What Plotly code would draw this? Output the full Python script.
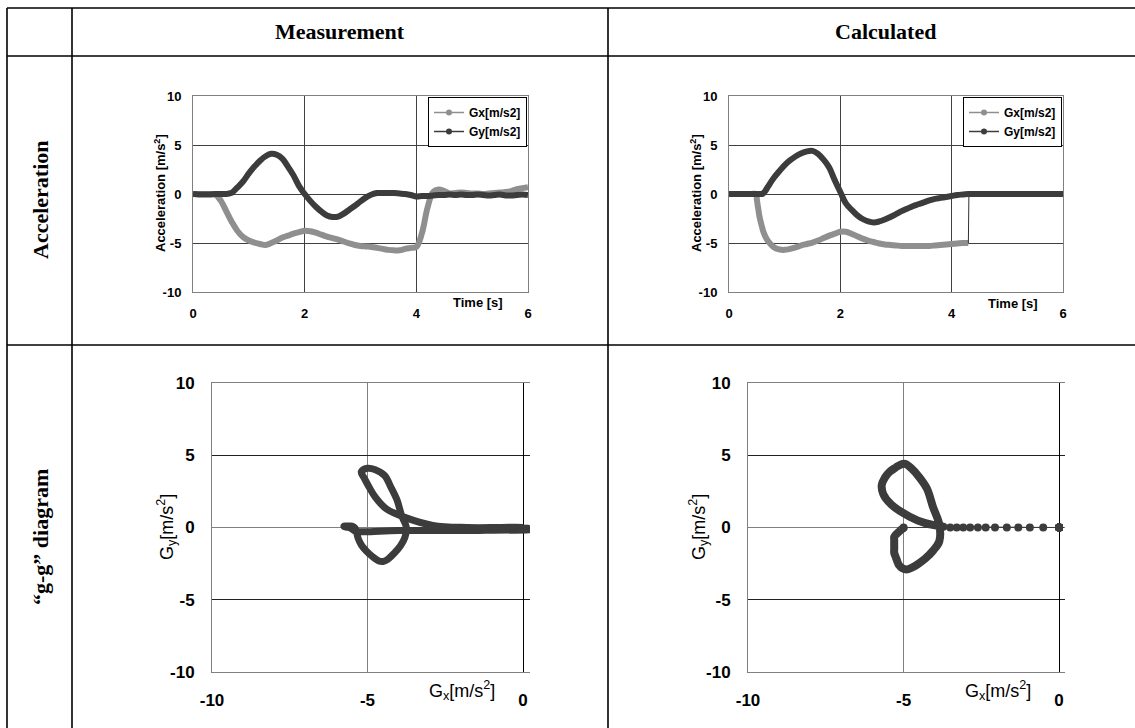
import plotly.graph_objects as go

# ---------------- data ----------------
meas_t = [0.0, 0.1, 0.2, 0.3, 0.4, 0.5, 0.6, 0.7, 0.8, 0.9,
          1.0, 1.1, 1.2, 1.3, 1.4, 1.5, 1.6, 1.7, 1.8, 1.9,
          2.0, 2.1, 2.2, 2.3, 2.4, 2.5, 2.6, 2.7, 2.8, 2.9,
          3.0, 3.1, 3.2, 3.3, 3.4, 3.5, 3.6, 3.7, 3.8, 3.9,
          4.0, 4.1, 4.2, 4.3, 4.4, 4.5, 4.6, 4.7, 4.8, 4.9,
          5.0, 5.1, 5.2, 5.3, 5.4, 5.5, 5.6, 5.7, 5.8, 5.9, 6.0]
meas_gx = [0, 0, 0, 0, -0.05, -0.7, -1.8, -2.9, -3.8, -4.4,
           -4.75, -4.95, -5.1, -5.2, -5.0, -4.75, -4.45, -4.25, -4.05, -3.9,
           -3.75, -3.8, -3.95, -4.15, -4.35, -4.5, -4.65, -4.85, -5.05, -5.2,
           -5.3, -5.35, -5.4, -5.5, -5.6, -5.7, -5.75, -5.75, -5.6, -5.5,
           -5.4, -4.0, -1.4, 0.2, 0.45, 0.3, 0.05, 0.1, 0.15, 0.1,
           0.05, 0.05, 0.0, 0.05, 0.1, 0.15, 0.2, 0.3, 0.5, 0.6, 0.7]
meas_gy = [0, -0.05, -0.05, -0.05, 0, 0, 0, 0.15, 0.7, 1.3,
           2.1, 2.8, 3.4, 3.85, 4.1, 4.0, 3.6, 2.8, 1.9, 0.8,
           0.0, -0.7, -1.3, -1.8, -2.2, -2.35, -2.3, -2.0, -1.6, -1.2,
           -0.75, -0.35, -0.05, 0.1, 0.1, 0.1, 0.1, 0.05, 0.0, -0.1,
           -0.25, -0.2, -0.2, -0.15, -0.1, -0.1, -0.05, -0.1, -0.05, -0.1,
           -0.1, -0.05, -0.1, -0.15, -0.1, -0.05, -0.15, -0.15, -0.1, -0.05, -0.1]

calc_t = [0.0, 0.1, 0.2, 0.3, 0.4, 0.49,
          0.50, 0.51, 0.52, 0.53, 0.54, 0.55, 0.56, 0.57, 0.58, 0.59, 0.60, 0.61,
          0.65, 0.7, 0.8, 0.9,
          1.0, 1.1, 1.2, 1.3, 1.4, 1.5, 1.6, 1.7, 1.8, 1.9,
          2.0, 2.1, 2.2, 2.3, 2.4, 2.5, 2.6, 2.7, 2.8, 2.9,
          3.0, 3.1, 3.2, 3.3, 3.4, 3.5, 3.6, 3.7, 3.8, 3.9,
          4.0, 4.1, 4.2, 4.3, 4.31, 4.4, 4.5, 4.6, 4.7, 4.8, 4.9,
          5.0, 5.1, 5.2, 5.3, 5.4, 5.5, 5.6, 5.7, 5.8, 5.9, 6.0]
calc_gx = [0, 0, 0, 0, 0, 0,
           -0.51, -0.94, -1.31, -1.68, -2.06, -2.36, -2.61, -2.86, -3.08, -3.29, -3.5, -3.72,
           -4.3, -4.8, -5.4, -5.65,
           -5.7, -5.6, -5.45, -5.25, -5.1, -4.95, -4.75, -4.5, -4.25, -4.05,
           -3.85, -3.85, -4.05, -4.3, -4.55, -4.75, -4.9, -5.05, -5.15, -5.2,
           -5.25, -5.3, -5.3, -5.3, -5.3, -5.3, -5.3, -5.25, -5.2, -5.15,
           -5.1, -5.05, -5.0, -5.0, 0, 0, 0, 0, 0, 0, 0,
           0, 0, 0, 0, 0, 0, 0, 0, 0, 0, 0]
calc_gy = [0, 0, 0, 0, 0, 0,
           0, 0, 0, 0, 0, 0, 0, 0, 0, 0, 0, 0.05,
           0.3, 0.75, 1.6, 2.3,
           2.95, 3.45, 3.85, 4.15, 4.35, 4.4, 4.1, 3.5, 2.7, 1.4,
           0.2, -0.95, -1.6, -2.15, -2.55, -2.8, -2.9, -2.8, -2.6, -2.35,
           -2.05, -1.75, -1.5, -1.25, -1.05, -0.85, -0.65, -0.5, -0.4, -0.3,
           -0.2, -0.1, -0.05, 0, 0, 0, 0, 0, 0, 0, 0,
           0, 0, 0, 0, 0, 0, 0, 0, 0, 0, 0]

col_labels = ["Measurement", "Calculated"]
row_labels = ["Acceleration", "\u201cg-g\u201d diagram"]
series_names = ["Gx[m/s2]", "Gy[m/s2]"]
acc_xticks = [0, 2, 4, 6]
acc_yticks = [-10, -5, 0, 5, 10]
gg_xticks = [-10, -5, 0]
gg_yticks = [-10, -5, 0, 5, 10]

# ---------------- styling ----------------
W, H = 1135, 728
def px(x): return x / W
def py(y): return 1 - y / H
def labels(vals): return [str(v) for v in vals]   # plain hyphen-minus like the original

GX_COL = "#8f8f8f"
GY_COL = "#3c3c3c"
SANS = "Liberation Sans"
SERIF = "Liberation Serif"

i_end = calc_t.index(4.3)      # last calculated Gx sample before the jump
i_dot = calc_t.index(0.61)     # end of the sparse (dotted) part

fig = go.Figure()

# --- acceleration, measurement ---
fig.add_trace(go.Scatter(x=meas_t, y=meas_gx, mode="lines", line=dict(color=GX_COL, width=6, shape="spline"),
                         showlegend=False, xaxis="x", yaxis="y"))
fig.add_trace(go.Scatter(x=meas_t, y=meas_gy, mode="lines", line=dict(color=GY_COL, width=6, shape="spline"),
                         showlegend=False, xaxis="x", yaxis="y"))
fig.add_trace(go.Scatter(x=[None], y=[None], mode="lines+markers", name=series_names[0],
                         line=dict(color=GX_COL, width=1.5), marker=dict(color=GX_COL, size=6),
                         xaxis="x", yaxis="y", legend="legend"))
fig.add_trace(go.Scatter(x=[None], y=[None], mode="lines+markers", name=series_names[1],
                         line=dict(color=GY_COL, width=1.5), marker=dict(color=GY_COL, size=6),
                         xaxis="x", yaxis="y", legend="legend"))

# --- acceleration, calculated ---
fig.add_trace(go.Scatter(x=calc_t[:i_end + 1], y=calc_gx[:i_end + 1], mode="lines",
                         line=dict(color=GX_COL, width=6, shape="spline"),
                         showlegend=False, xaxis="x2", yaxis="y2"))
fig.add_trace(go.Scatter(x=calc_t[i_end:], y=calc_gx[i_end:], mode="lines",
                         line=dict(color="#303030", width=1),
                         showlegend=False, xaxis="x2", yaxis="y2"))
fig.add_trace(go.Scatter(x=calc_t, y=calc_gy, mode="lines", line=dict(color=GY_COL, width=6, shape="spline"),
                         showlegend=False, xaxis="x2", yaxis="y2"))
fig.add_trace(go.Scatter(x=[None], y=[None], mode="lines+markers", name=series_names[0],
                         line=dict(color=GX_COL, width=1.5), marker=dict(color=GX_COL, size=6),
                         xaxis="x2", yaxis="y2", legend="legend2"))
fig.add_trace(go.Scatter(x=[None], y=[None], mode="lines+markers", name=series_names[1],
                         line=dict(color=GY_COL, width=1.5), marker=dict(color=GY_COL, size=6),
                         xaxis="x2", yaxis="y2", legend="legend2"))

# --- g-g, measurement ---
fig.add_trace(go.Scatter(x=meas_gx, y=meas_gy, mode="lines", line=dict(color=GY_COL, width=7, shape="spline"),
                         showlegend=False, xaxis="x3", yaxis="y3"))

# --- g-g, calculated ---
fig.add_trace(go.Scatter(x=calc_gx[i_dot:i_end + 1], y=calc_gy[i_dot:i_end + 1], mode="lines",
                         line=dict(color=GY_COL, width=8, shape="spline"),
                         showlegend=False, xaxis="x4", yaxis="y4"))
fig.add_trace(go.Scatter(x=calc_gx[i_end:], y=calc_gy[i_end:], mode="lines+markers",
                         line=dict(color=GY_COL, width=1), marker=dict(color=GY_COL, size=8),
                         showlegend=False, xaxis="x4", yaxis="y4"))
fig.add_trace(go.Scatter(x=calc_gx[:i_dot + 1], y=calc_gy[:i_dot + 1], mode="lines+markers",
                         line=dict(color=GY_COL, width=1), marker=dict(color=GY_COL, size=8),
                         showlegend=False, xaxis="x4", yaxis="y4"))

acc_tick = dict(family=SANS, size=13, color="black", weight="bold")
gg_tick = dict(family=SANS, size=17, color="black", weight="bold")

def acc_axes(xd, anchor_x, anchor_y):
    xa = dict(domain=xd, range=[0, 6], tickvals=acc_xticks, ticktext=labels(acc_xticks),
              anchor=anchor_y, automargin=False,
              showgrid=True, gridcolor="#404040", gridwidth=1, zeroline=False,
              showline=True, mirror=True, linecolor="#808080", linewidth=1,
              ticks="", ticklabelstandoff=9, tickfont=acc_tick, fixedrange=True)
    ya = dict(domain=[py(292), py(96)], range=[-10, 10], tickvals=acc_yticks, ticktext=labels(acc_yticks),
              anchor=anchor_x, automargin=False,
              showgrid=True, gridcolor="#404040", gridwidth=1, zeroline=False,
              showline=True, mirror=True, linecolor="#808080", linewidth=1,
              ticks="", ticklabelstandoff=8, tickfont=acc_tick, fixedrange=True)
    return xa, ya

def gg_axes(xd, xr, anchor_x, anchor_y):
    xa = dict(domain=xd, range=xr, tickvals=gg_xticks, ticktext=labels(gg_xticks),
              anchor=anchor_y, automargin=False,
              showgrid=True, gridcolor="#808080", gridwidth=1,
              zeroline=True, zerolinecolor="#000000", zerolinewidth=1,
              showline=True, mirror=True, linecolor="#808080", linewidth=1,
              ticks="", ticklabelstandoff=13, tickfont=gg_tick, fixedrange=True)
    ya = dict(domain=[py(672), py(383)], range=[-10, 10], tickvals=gg_yticks, ticktext=labels(gg_yticks),
              anchor=anchor_x, automargin=False,
              showgrid=True, gridcolor="#202020", gridwidth=1,
              zeroline=True, zerolinecolor="#808080", zerolinewidth=1,
              showline=True, mirror=False, linecolor="#808080", linewidth=1,
              ticks="", ticklabelstandoff=13, tickfont=gg_tick, fixedrange=True)
    return xa, ya

x1, y1 = acc_axes([px(193), px(528)], "x", "y")
x2, y2 = acc_axes([px(729), px(1063)], "x2", "y2")
x3, y3 = gg_axes([px(212), px(530)], [-10, 0.225], "x3", "y3")
x4, y4 = gg_axes([px(748), px(1065)], [-10, 0.19], "x4", "y4")

# table lines
line_style = dict(color="black", width=1.6)
shapes = []
for yy in (8, 56, 345):
    shapes.append(dict(type="line", xref="paper", yref="paper", x0=px(7), x1=1.0, y0=py(yy), y1=py(yy), line=line_style))
for xx in (7, 72, 608):
    shapes.append(dict(type="line", xref="paper", yref="paper", x0=px(xx), x1=px(xx), y0=py(8), y1=0.0, line=line_style))

def ann(x, y, text, size, family=SANS, weight="normal", angle=0):
    return dict(x=px(x), y=py(y), xref="paper", yref="paper", text=text, showarrow=False,
                xanchor="center", yanchor="middle", textangle=angle,
                font=dict(family=family, size=size, color="black", weight=weight))

annotations = [
    ann(340, 32, col_labels[0], 22, SERIF, "bold"),
    ann(885, 32, col_labels[1], 22, SERIF, "bold"),
    ann(40, 200, row_labels[0], 22, SERIF, "bold", -90),
    ann(40, 537, row_labels[1], 22, SERIF, "bold", -90),
    ann(160, 193, "Acceleration [m/s<sup>2</sup>]", 13, SANS, "bold", -90),
    ann(696, 193, "Acceleration [m/s<sup>2</sup>]", 13, SANS, "bold", -90),
    ann(478, 302, "Time [s]", 13, SANS, "bold"),
    ann(1013, 303, "Time [s]", 13, SANS, "bold"),
    ann(166, 527, "G<sub>y</sub>[m/s<sup>2</sup>]", 18, SANS, "normal", -90),
    ann(698, 527, "G<sub>y</sub>[m/s<sup>2</sup>]", 18, SANS, "normal", -90),
    ann(462, 690, "G<sub>x</sub>[m/s<sup>2</sup>]", 18, SANS, "normal"),
    ann(998, 690, "G<sub>x</sub>[m/s<sup>2</sup>]", 18, SANS, "normal"),
]

legend_common = dict(bgcolor="white", bordercolor="black", borderwidth=1,
                     font=dict(family=SANS, size=12, color="black", weight="bold"),
                     itemwidth=30, tracegroupgap=0, xanchor="right", yanchor="top",
                     xref="paper", yref="paper")

fig.update_layout(
    template="none",
    width=W, height=H, margin=dict(l=0, r=0, t=0, b=0, autoexpand=False),
    paper_bgcolor="white", plot_bgcolor="white",
    xaxis=x1, yaxis=y1, xaxis2=x2, yaxis2=y2, xaxis3=x3, yaxis3=y3, xaxis4=x4, yaxis4=y4,
    shapes=shapes, annotations=annotations,
    legend=dict(x=px(527), y=py(97), **legend_common),
    legend2=dict(x=px(1062), y=py(97), **legend_common),
    showlegend=True,
)

fig.write_html("out.html", config={"displayModeBar": False},
               post_script="document.body.style.margin='0px';")
